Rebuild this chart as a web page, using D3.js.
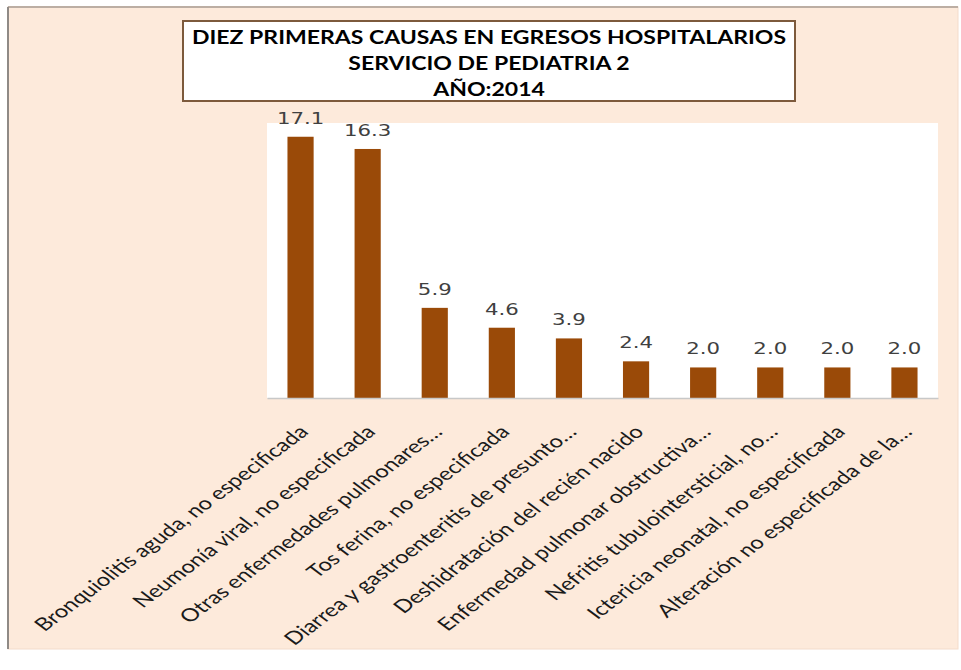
<!DOCTYPE html>
<html>
<head>
    <script src="https://cdn.jsdelivr.net/npm/d3@7/dist/d3.min.js" charset="utf-8"></script>
    <title>Diez primeras causas - Pediatria 2</title>
    <style type="text/css">
        body {
            margin: 0;
            background: #fff;
        }
        .valueLabel {
            font-family: "DejaVu Sans", sans-serif;
            font-size: 16px;
            fill: #404040;
        }
        .catLabel {
            font-family: "Lato", sans-serif;
            font-size: 18px;
            fill: #1a1a1a;
        }
        .title {
            font-family: "Lato", sans-serif;
            font-weight: bold;
            font-size: 18px;
            fill: #000;
        }
    </style>
</head>
<body>

<div id="visContainer"></div>

<script>

// chart data
var causas = [
    "Bronquiolitis aguda, no especificada",
    "Neumonía viral, no especificada",
    "Otras enfermedades pulmonares…",
    "Tos ferina, no especificada",
    "Diarrea y gastroenteritis de presunto…",
    "Deshidratación del recién nacido",
    "Enfermedad pulmonar obstructiva…",
    "Nefritis tubulointersticial, no…",
    "Ictericia neonatal, no especificada",
    "Alteración no especificada de la…"
];
var porcentajes = [17.1, 16.3, 5.9, 4.6, 3.9, 2.4, 2.0, 2.0, 2.0, 2.0];
var tituloLineas = [
    "DIEZ PRIMERAS CAUSAS EN EGRESOS HOSPITALARIOS",
    "SERVICIO DE PEDIATRIA 2",
    "AÑO:2014"
];

var width = 961, height = 670;
var stretch = 1.33; // the picture is wider than tall, text looks stretched

var plot = {left: 267, right: 938, top: 123, bottom: 398};

var svg = d3.select("#visContainer").append("svg")
        .attr("width", width)
        .attr("height", height);

// outer chart area
svg.append("rect")
        .attr("x", 8).attr("y", 7)
        .attr("width", 950).attr("height", 642)
        .attr("fill", "#fdeadb")
        .attr("stroke", "#f3dccb")
        .attr("stroke-width", 1);
svg.append("line")
        .attr("x1", 8).attr("x2", 958).attr("y1", 7).attr("y2", 7)
        .attr("stroke", "#bcaea3").attr("stroke-width", 2);
svg.append("line")
        .attr("x1", 8).attr("x2", 8).attr("y1", 7).attr("y2", 649)
        .attr("stroke", "#8f8a86").attr("stroke-width", 2);

// plot area
svg.append("rect")
        .attr("x", plot.left).attr("y", plot.top)
        .attr("width", plot.right - plot.left)
        .attr("height", plot.bottom - plot.top)
        .attr("fill", "#fff");

var x = d3.scaleBand()
        .domain(causas)
        .range([plot.left, plot.right])
        .paddingInner(0.61)
        .paddingOuter(0.305);

var y = d3.scaleLinear()
        .domain([0, 18])
        .range([plot.bottom, plot.top]);

svg.selectAll("rect.bar")
        .data(porcentajes)
        .enter().append("rect")
        .attr("class", "bar")
        .attr("x", function (d, i) { return x(causas[i]); })
        .attr("y", function (d) { return y(d); })
        .attr("width", x.bandwidth())
        .attr("height", function (d) { return y(0) - y(d); })
        .attr("fill", "#9a4a08");

// baseline
var xAxis = svg.append("g")
        .attr("transform", "translate(0," + plot.bottom + ")")
        .call(d3.axisBottom(x).tickSize(0).tickFormat(""));
xAxis.select(".domain")
        .attr("stroke", "#c8c8c8")
        .attr("stroke-width", 1.5);

// value labels
svg.selectAll("text.valueLabel")
        .data(porcentajes)
        .enter().append("text")
        .attr("class", "valueLabel")
        .attr("text-anchor", "middle")
        .attr("transform", function (d, i) {
            var cx = x(causas[i]) + x.bandwidth() / 2;
            return "translate(" + cx + "," + (y(d) - 13) + ") scale(" + stretch + ",1)";
        })
        .text(function (d) { return d.toFixed(1); });

// category labels, rotated
svg.selectAll("text.catLabel")
        .data(causas)
        .enter().append("text")
        .attr("class", "catLabel")
        .attr("text-anchor", "end")
        .attr("transform", function (d) {
            var cx = x(d) + x.bandwidth() / 2;
            return "translate(" + (cx + 9) + "," + 433 + ") scale(" + stretch + ",1) rotate(-45)";
        })
        .text(function (d) { return d; });

// title box
svg.append("rect")
        .attr("x", 183).attr("y", 21)
        .attr("width", 612).attr("height", 80)
        .attr("fill", "#fff")
        .attr("stroke", "#7d5a3c")
        .attr("stroke-width", 2);

svg.selectAll("text.title")
        .data(tituloLineas)
        .enter().append("text")
        .attr("class", "title")
        .attr("text-anchor", "middle")
        .attr("transform", function (d, i) {
            return "translate(489," + (44 + i * 26) + ") scale(1.28,1)";
        })
        .text(function (d) { return d; });

</script>

</body>
</html>
